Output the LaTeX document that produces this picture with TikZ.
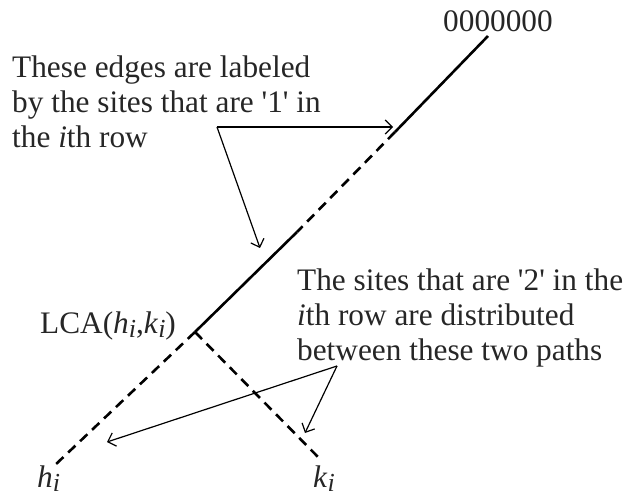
\documentclass[tikz,border=0pt]{standalone}
\usepackage{fontspec}
\setmainfont{Liberation Serif}
\usetikzlibrary{arrows.meta}
\newcommand\subi[1]{\raisebox{-0.32ex}{\fontsize{26}{26}\selectfont\itshape #1}}
\begin{document}
\begin{tikzpicture}[x=1pt,y=-1pt,
  lbl/.style={inner sep=0pt,font=\fontsize{31.3}{35}\selectfont,text=black!85},
  solidedge/.style={line width=2.6pt},
  dashedge/.style={line width=2.6pt,dash pattern=on 10pt off 6.5pt},
  pointer/.style={line width=1.2pt,-{Straight Barb[length=7pt,width=14pt,line width=1.2pt]}}]
\useasboundingbox (0,0) rectangle (630,500);
% tree points
\coordinate (top) at (488,36);
\coordinate (s1) at (395,132);
\coordinate (s2) at (297,232);
\coordinate (lca) at (195,332);
\coordinate (hend) at (54,466);
\coordinate (kend) at (321,460);
% pointer sources and tips
\coordinate (a1) at (217,127);
\coordinate (a2) at (337,366);
\coordinate (t1) at (393,127);
\coordinate (t2) at (260,248);
\coordinate (t3) at (107,442);
\coordinate (t4) at (305,433);
% edges
\draw[solidedge] (top) -- (s1);
\draw[dashedge] (s1) -- (s2);
\draw[solidedge] (s2) -- (lca);
\draw[dashedge] (lca) -- (hend);
\draw[dashedge] (lca) -- (kend);
% pointers
\draw[pointer] (a1) -- (t1);
\draw[pointer] (a1) -- (t2);
\draw[pointer] (a2) -- (t3);
\draw[pointer] (a2) -- (t4);
% labels
\node[lbl,anchor=base west] (root) at (443,32) {0000000};
\node[lbl,anchor=north west,align=left] (txt1) at (12,56) {These edges are labeled\\by the sites that are \textquotesingle 1\textquotesingle{} in\\the \textit{i}th row};
\node[lbl,anchor=north west,align=left] (txt2) at (297,269) {The sites that are \textquotesingle 2\textquotesingle{} in the\\\textit{i}th row are distributed\\between these two paths};
\node[lbl,anchor=base west] (lcalbl) at (40,333) {LCA(\textit{h}\subi{i},\textit{k}\subi{i})};
\node[lbl,anchor=base west] (hlbl) at (37,487) {\textit{h}\subi{i}};
\node[lbl,anchor=base west] (klbl) at (313,487) {\textit{k}\subi{i}};
\end{tikzpicture}
\end{document}
